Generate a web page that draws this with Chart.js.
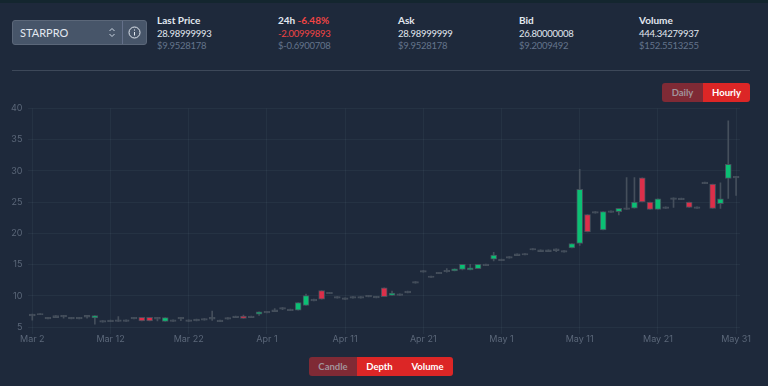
<!DOCTYPE html>
<html>
<head>
<meta charset="utf-8">
<script src="https://cdn.jsdelivr.net/npm/chart.js@4"></script>
<style>
  html, body { margin: 0; padding: 0; background: #1e293b; }
  body { width: 768px; height: 386px; position: relative; overflow: hidden; font-family: Lato, "Noto Sans", sans-serif; }
  .topstrip { position: absolute; left: 0; top: 0; width: 768px; height: 3px; background: #14262f; }
  .select { position: absolute; left: 12px; top: 20px; width: 135px; height: 25px; background: #475569; border: 1px solid #5b6779; border-radius: 3px; box-sizing: border-box; color: #e2e8f0; font-size: 11px; line-height: 23px; padding-left: 7px; }
  .select .sep { position: absolute; left: 109px; top: 0; width: 1px; height: 23px; background: #64708a; }
  .select svg { position: absolute; }
  .stat { position: absolute; top: 14px; font-size: 9.5px; letter-spacing: -0.25px; line-height: 12.5px; color: #e2e8f0; white-space: nowrap; }
  .stat b { font-weight: 700; font-size: 10px; letter-spacing: 0; }
  .stat .usd { color: #64748b; }
  .stat .neg { color: #ef4444; }
  hr { position: absolute; left: 12px; top: 70px; width: 738px; height: 1px; margin: 0; border: 0; background: #3d4859; }
  .btns { position: absolute; display: flex; height: 19px; border-radius: 3px; overflow: hidden; font-size: 9.5px; font-weight: 700; line-height: 19px; text-align: center; }
  .btns div { background: #dc2626; color: #fff; }
  .btns .off { background: #7f2a35; color: #a1939b; }
  #wrap { position: absolute; left: 0; top: 97px; width: 768px; height: 253px; }
</style>
</head>
<body>
<div class="topstrip"></div>
<div class="select">STARPRO
  <svg style="left:95px;top:6px" width="8" height="11" viewBox="0 0 8 11" fill="none" stroke="#cbd5e1" stroke-width="1"><path d="M1.5 4 L4 1.5 L6.5 4 M1.5 7 L4 9.5 L6.5 7"/></svg>
  <div class="sep"></div>
  <svg style="left:115px;top:5px" width="13" height="13" viewBox="0 0 13 13" fill="none" stroke="#e2e8f0" stroke-width="1"><circle cx="6.5" cy="6.5" r="5.5"/><path d="M6.5 6 V9.5 M6.5 3.5 V4.6"/></svg>
</div>

<div class="stat" style="left:157px"><b>Last Price</b><br>28.98999993<br><span class="usd">$9.9528178</span></div>
<div class="stat" style="left:278px"><b>24h</b> <b class="neg">-6.48%</b><br><span class="neg">-2.00999893</span><br><span class="usd">$-0.6900708</span></div>
<div class="stat" style="left:398px"><b>Ask</b><br>28.98999999<br><span class="usd">$9.9528178</span></div>
<div class="stat" style="left:519px"><b>Bid</b><br>26.80000008<br><span class="usd">$9.2009492</span></div>
<div class="stat" style="left:639px"><b>Volume</b><br>444.34279937<br><span class="usd">$152.5513255</span></div>
<hr>

<div class="btns" style="left:662px;top:83px;width:88px">
  <div class="off" style="width:41px">Daily</div><div style="width:47px">Hourly</div>
</div>

<div id="wrap"><canvas id="chart" width="768" height="253"></canvas></div>

<div class="btns" style="left:309px;top:357px;width:144px">
  <div class="off" style="width:48px">Candle</div><div style="width:45px">Depth</div><div style="width:51px">Volume</div>
</div>

<script>
// Data
const tickLabels = ['Mar 2', 'Mar 12', 'Mar 22', 'Apr 1', 'Apr 11', 'Apr 21', 'May 1', 'May 11', 'May 21', 'May 31'];
const yTicks = [5, 10, 15, 20, 25, 30, 35, 40];

const opens = [6.8,7.2,6.6,6.85,6.65,6.6,6.6,6.9,6.5,6.05,
  6.15,6.2,6.2,6.6,6.6,6.6,6.6,5.95,6.2,6.6,
  6.2,6.0,6.4,6.3,6.15,6.55,6.8,6.8,6.8,7.1,
  7.55,7.5,8.15,7.65,7.75,8.5,9.5,10.85,10.6,9.9,
  9.7,9.9,9.9,10.1,9.95,11.3,10.1,10.35,10.8,12.3,
  14.05,13.2,13.8,13.9,14.0,14.25,14.15,14.35,15.1,15.9,
  15.9,16.3,16.45,16.8,17.6,17.4,17.4,17.25,17.25,17.7,
  18.4,23.0,23.5,20.55,23.6,23.5,24.1,24.05,28.9,25.0,
  23.85,24.25,25.7,25.65,25.0,24.25,28.2,27.9,24.75,28.8,
  29.15];
const closes = [7.1,7.0,6.35,6.55,6.9,6.35,6.35,6.6,6.85,5.8,
  5.9,5.95,5.95,6.35,6.0,6.0,6.3,6.55,5.95,6.35,
  5.95,6.3,6.15,6.6,5.9,6.3,6.55,6.4,6.55,7.45,
  7.3,7.8,7.9,7.9,8.95,10.05,9.2,9.5,10.35,9.65,
  9.45,9.65,9.65,9.85,9.7,9.9,10.45,10.1,10.5,12.05,
  13.8,12.95,13.55,14.1,14.35,15.05,14.5,15.05,14.85,16.55,
  15.65,16.05,16.75,16.55,17.35,17.1,17.1,17.55,17.0,18.4,
  27.05,20.25,23.25,23.5,23.35,24.0,23.85,25.0,25.05,23.85,
  25.55,24.0,25.45,25.4,24.15,24.0,27.95,24.0,25.55,31.05,
  28.9];
const highs = [7.1,7.2,6.6,6.85,6.9,6.6,6.6,6.9,6.85,6.05,
  6.15,6.7,6.2,6.6,6.6,6.6,6.6,6.55,6.2,6.6,
  6.2,6.3,6.4,7.6,6.15,6.55,6.8,6.95,6.8,7.45,
  7.55,8.0,8.15,7.9,8.95,10.3,9.5,10.85,10.6,9.9,
  9.7,9.9,9.9,10.1,9.95,11.3,10.8,10.35,10.8,12.3,
  14.05,13.2,13.8,14.4,14.35,15.05,15.05,15.05,15.1,17.0,
  15.9,16.3,16.75,16.8,17.6,17.4,17.4,17.55,17.25,18.4,
  30.25,23.0,23.5,23.5,23.6,24.0,28.95,28.95,28.9,25.0,
  25.55,24.25,25.7,25.65,25.0,24.25,28.2,27.9,28.1,38.0,
  29.15];
const lows = [6.15,7.0,6.35,6.55,6.45,6.35,6.35,6.45,5.5,5.8,
  5.9,5.95,5.95,6.35,6.0,6.0,6.0,5.95,5.95,6.05,
  5.95,6.0,6.15,6.1,5.9,6.3,6.55,6.4,6.55,6.9,
  7.3,7.5,7.8,7.65,7.75,8.5,9.2,9.5,10.35,9.65,
  9.45,9.65,9.65,9.85,9.7,9.9,10.1,10.1,10.5,12.05,
  13.8,12.95,13.55,13.8,14.0,14.15,14.15,14.35,14.85,15.6,
  15.65,16.05,16.45,16.55,17.35,17.1,17.1,17.1,17.0,17.7,
  18.1,20.25,23.25,20.55,23.35,22.95,23.85,24.05,25.05,23.85,
  23.85,24.0,24.15,25.4,24.15,24.0,27.95,24.0,24.0,25.6,
  26.1];

// one category per day, Mar 2 to May 31
const labels = [];
[['Mar', 2, 31], ['Apr', 1, 30], ['May', 1, 31]].forEach(([m, from, to]) => {
  for (let d = from; d <= to; d++) labels.push(m + ' ' + d);
});

const green = '#0bbf74';
const red = '#dc2f4a';
const wickColor = '#454f5c';
const gridColor = 'rgba(148, 163, 184, 0.07)';
const tickColor = '#5b6779';

// very small bodies only show their outline
function bodyColor(o, c) {
  if (Math.abs(c - o) < 0.32) return wickColor;
  return c >= o ? green : red;
}

const ctx = document.getElementById('chart').getContext('2d');
const chart = new Chart(ctx, {
  type: 'bar',
  data: {
    labels: labels,
    datasets: [
      {
        // candle bodies
        data: opens.map((o, i) => [o, closes[i]]),
        backgroundColor: opens.map((o, i) => bodyColor(o, closes[i])),
        borderColor: wickColor,
        borderWidth: 1,
        borderSkipped: false,
        barThickness: 6,
        grouped: false,
        order: 1
      },
      {
        // wicks
        data: lows.map((l, i) => [l, highs[i]]),
        backgroundColor: wickColor,
        borderWidth: 0,
        barThickness: 1,
        grouped: false,
        order: 2
      }
    ]
  },
  options: {
    responsive: false,
    animation: false,
    layout: { padding: { top: 0, right: 28, left: 0, bottom: 0 } },
    plugins: { legend: { display: false }, tooltip: { enabled: false } },
    scales: {
      x: {
        offset: true,
        grid: { color: gridColor, offset: false, drawTicks: false },
        border: { display: false },
        afterBuildTicks: scale => {
          scale.ticks = scale.ticks.filter(t => tickLabels.includes(labels[t.value]));
        },
        afterFit: scale => { scale.height = 16.5; },
        ticks: {
          autoSkip: false,
          maxRotation: 0,
          padding: 0,
          color: tickColor,
          font: { family: 'Inter', size: 9 }
        }
      },
      y: {
        min: 4,
        max: 40,
        grid: { color: gridColor, drawTicks: false },
        border: { display: false },
        afterBuildTicks: scale => {
          scale.ticks = yTicks.map(v => ({ value: v }));
        },
        afterFit: scale => { scale.width = 28.4; },
        ticks: {
          padding: 6,
          color: tickColor,
          font: { family: 'Inter', size: 9 }
        }
      }
    }
  }
});
</script>
</body>
</html>
